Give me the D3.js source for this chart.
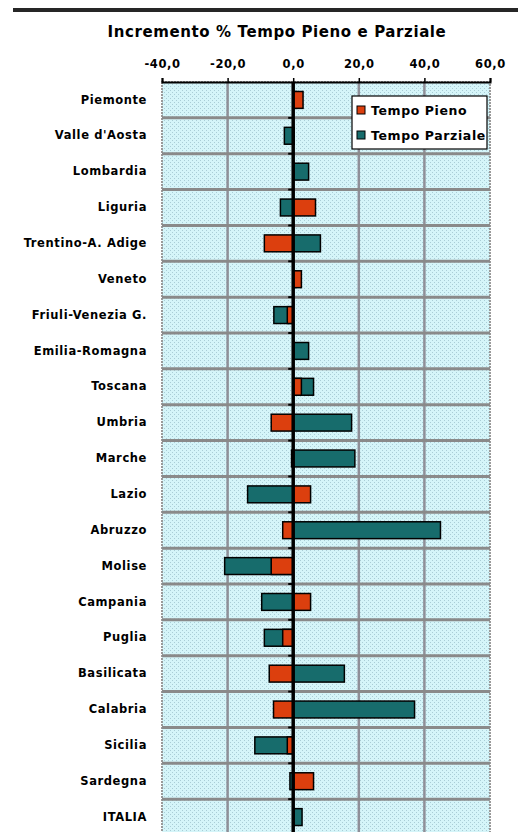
<!DOCTYPE html>
<html>
<head>
<meta charset="utf-8">
<script src="https://cdn.jsdelivr.net/npm/d3@7"></script>
<style>
  body { margin: 0; background: #fff; }
  svg text { font-family: "DejaVu Sans", Verdana, sans-serif; font-weight: bold; fill: #000; letter-spacing: 0.6px; }
</style>
</head>
<body>
<script>
// data
var regioni = ["Piemonte", "Valle d'Aosta", "Lombardia", "Liguria", "Trentino-A. Adige",
    "Veneto", "Friuli-Venezia G.", "Emilia-Romagna", "Toscana", "Umbria", "Marche",
    "Lazio", "Abruzzo", "Molise", "Campania", "Puglia", "Basilicata", "Calabria",
    "Sicilia", "Sardegna", "ITALIA"];
var tempoPieno = [3.0, 0.3, 0.2, 6.8, -8.8, 2.5, -1.8, 0.2, 2.5, -6.7, -0.5,
    5.3, -3.2, -6.7, 5.3, -3.2, -7.3, -6.0, -1.8, 6.2, 0.3];
var tempoParziale = [1.0, -2.7, 4.7, -3.9, 8.3, 0.5, -5.9, 4.7, 6.2, 17.8, 18.8,
    -13.9, 44.9, -20.9, -9.6, -8.8, 15.6, 37.0, -11.7, -1.0, 2.7];
var tickValori = [-40, -20, 0, 20, 40, 60];
var serieNomi = ["Tempo Pieno", "Tempo Parziale"];
var serieColori = ["#dc3f0e", "#176c6c"];

var margin = { top: 82, right: 28, left: 162 },
    width = 518 - margin.left - margin.right,
    height = 835 - margin.top;

var it = d3.formatLocale({ decimal: ",", thousands: ".", grouping: [3], currency: ["", "€"], minus: "-" });
var fmt = it.format(".1f");

var x = d3.scaleLinear()
    .domain([-40, 60])
    .range([0, width]);
var y = d3.scaleBand()
    .domain(regioni)
    .range([0, height])
    .paddingInner(0)
    .paddingOuter(0);

var svg = d3.select("body").append("svg")
    .attr("width", 518)
    .attr("height", 832);

// dotted cyan fill like the original
var defs = svg.append("defs");
var pat = defs.append("pattern")
    .attr("id", "sfondo")
    .attr("width", 4).attr("height", 4)
    .attr("patternUnits", "userSpaceOnUse");
pat.append("rect").attr("width", 4).attr("height", 4).attr("fill", "#d5f5f9");
pat.append("rect").attr("x", 0).attr("y", 0).attr("width", 1).attr("height", 1).attr("fill", "#aacdd6");
pat.append("rect").attr("x", 2).attr("y", 2).attr("width", 1).attr("height", 1).attr("fill", "#aacdd6");

// top rule
svg.append("rect")
    .attr("x", 13).attr("y", 8)
    .attr("width", 505).attr("height", 4)
    .attr("fill", "#262626");

// title
svg.append("text")
    .attr("x", 277).attr("y", 37)
    .attr("text-anchor", "middle")
    .style("font-size", "15px")
    .text("Incremento % Tempo Pieno e Parziale");

var g = svg.append("g")
    .attr("transform", "translate(" + margin.left + "," + margin.top + ")");

// plot area
g.append("rect")
    .attr("width", width)
    .attr("height", height)
    .attr("fill", "url(#sfondo)")
    .attr("stroke", "#9a9a9a")
    .attr("stroke-width", 2)
    .attr("stroke-dasharray", "2,1");

// vertical gridlines
g.selectAll(".vgrid")
    .data(tickValori.filter(function (d) { return d !== -40 && d !== 60 && d !== 0; }))
    .enter().append("line")
    .attr("class", "vgrid")
    .attr("x1", function (d) { return x(d); })
    .attr("x2", function (d) { return x(d); })
    .attr("y1", 0)
    .attr("y2", height)
    .attr("stroke", "#8f8f98")
    .attr("stroke-width", 2.5);

// horizontal gridlines between categories
g.selectAll(".hgrid")
    .data(regioni.slice(1))
    .enter().append("line")
    .attr("class", "hgrid")
    .attr("x1", 0)
    .attr("x2", width)
    .attr("y1", function (d) { return y(d); })
    .attr("y2", function (d) { return y(d); })
    .attr("stroke", "#8a8a8a")
    .attr("stroke-width", 3);

var barH = y.bandwidth() * 0.47;

// Tempo Parziale behind, Tempo Pieno in front
var serie = [tempoParziale, tempoPieno];
var colori = [serieColori[1], serieColori[0]];
serie.forEach(function (vals, si) {
    g.append("g").selectAll("rect")
        .data(vals)
        .enter().append("rect")
        .attr("x", function (d) { return x(Math.min(0, d)); })
        .attr("y", function (d, i) { return y(regioni[i]) + (y.bandwidth() - barH) / 2; })
        .attr("width", function (d) { return Math.abs(x(d) - x(0)); })
        .attr("height", barH)
        .attr("fill", colori[si])
        .attr("stroke", "#000")
        .attr("stroke-width", 1.5);
});

// top value axis
var xAxis = g.append("g")
    .call(d3.axisTop(x).tickValues(tickValori).tickSize(4).tickPadding(10).tickFormat(fmt));
xAxis.select(".domain").attr("stroke", "#000").attr("stroke-width", 2);
xAxis.selectAll("line").attr("stroke", "#000").attr("stroke-width", 1.5);
xAxis.selectAll("text").style("font-size", "11.5px").attr("font-family", null);

// category axis at zero
g.append("line")
    .attr("x1", x(0)).attr("x2", x(0))
    .attr("y1", 0).attr("y2", height)
    .attr("stroke", "#000")
    .attr("stroke-width", 3.5);
g.selectAll(".ctick")
    .data(regioni.slice(1))
    .enter().append("line")
    .attr("class", "ctick")
    .attr("x1", x(0) - 5).attr("x2", x(0))
    .attr("y1", function (d) { return y(d); })
    .attr("y2", function (d) { return y(d); })
    .attr("stroke", "#000")
    .attr("stroke-width", 2);

// category labels
var yAxis = g.append("g")
    .call(d3.axisLeft(y).tickSize(0).tickPadding(15));
yAxis.select(".domain").remove();
yAxis.selectAll("text").style("font-size", "11.5px").attr("font-family", null);

// legend
var leg = svg.append("g").attr("transform", "translate(352,96)");
leg.append("rect")
    .attr("width", 135).attr("height", 53)
    .attr("fill", "#fff")
    .attr("stroke", "#000")
    .attr("stroke-width", 1.2);
serieNomi.forEach(function (n, i) {
    leg.append("rect")
        .attr("x", 5).attr("y", 10 + i * 25)
        .attr("width", 8).attr("height", 8)
        .attr("fill", serieColori[i])
        .attr("stroke", "#000");
    leg.append("text")
        .attr("x", 19).attr("y", 18.5 + i * 25)
        .style("font-size", "12.5px")
        .text(n);
});
</script>
</body>
</html>
